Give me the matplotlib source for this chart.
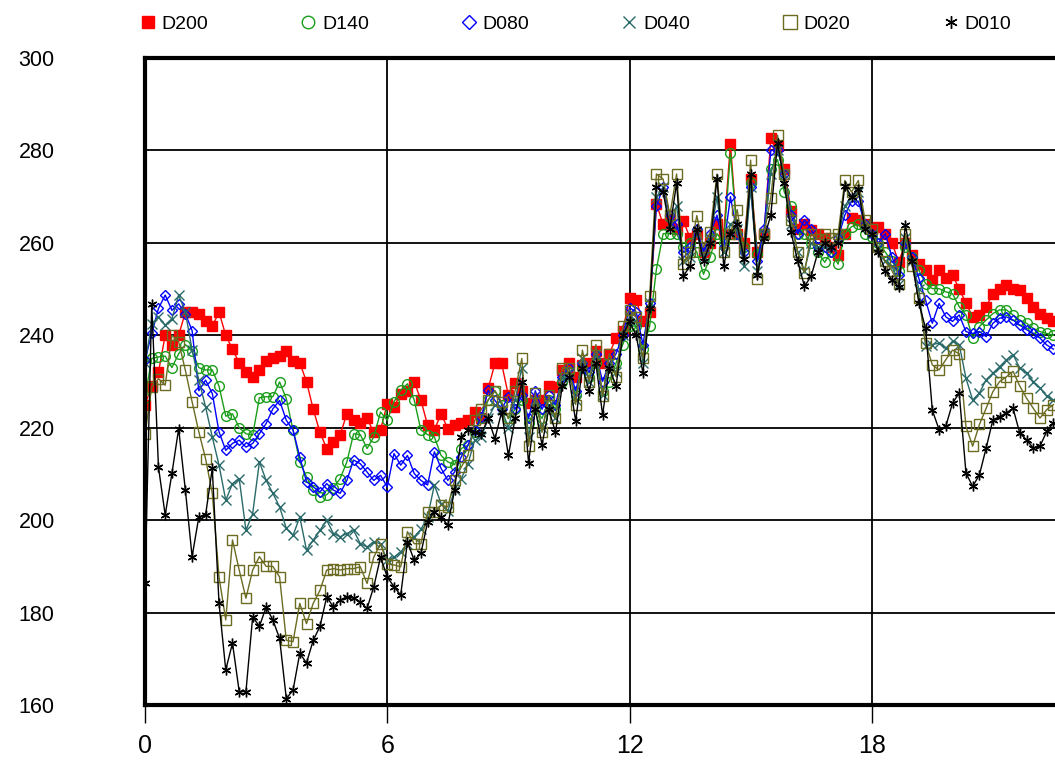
import numpy as np
import matplotlib
matplotlib.use("Agg")
import matplotlib.pyplot as plt
from matplotlib.lines import Line2D
from matplotlib import font_manager

# pick a narrow sans if we have one
names = {f.name for f in font_manager.fontManager.ttflist}
fam = "Liberation Sans Narrow" if "Liberation Sans Narrow" in names else "Liberation Sans"
plt.rcParams["font.family"] = [fam, "DejaVu Sans"]

# readings every 10 minutes (t = i/6 h)
d200 = [225, 229, 232, 240, 238, 240, 245, 245, 244.5, 243, 242, 245, 240, 237, 234, 232, 231, 232.5, 234.5, 235,
        235.5, 236.5, 234.5, 234, 230, 224, 219, 215.5,
        217, 218.5, 223, 221.6, 221, 222, 219, 219.5, 225.2, 224.5, 227.4, 228, 230, 226, 220.5, 219.5, 223, 219.8,
        220.5, 221, 221.6, 223.4, 222, 228.5, 233.9, 233.9,
        227, 229.6, 228, 225.3, 226, 226, 229, 228.9, 232.5, 233.9, 231, 233.6, 234, 236.5, 234, 236, 239.4, 241, 248, 247.6,
        243, 245, 268.4, 264, 265.1, 263, 264.8, 261, 262, 258, 260, 264, 262, 281.4, 262, 260, 273.9, 258, 262, 282.7,
        281, 276, 267, 263, 264, 262.8, 262, 261, 259, 257.3, 262, 265.4, 265, 264, 263, 263.5, 262, 260, 255.9, 259.9,
        257.3, 255.5, 254.1, 252, 254.1, 252.3, 253, 250.1, 246.9, 244, 244.4, 246.2, 249, 250.1, 250.9, 250.1, 249.8, 248,
        246.2, 244.7, 243.7, 243]
d140 = [226.5, 235, 235.3, 235.5, 233, 236, 238, 236.5, 233, 232.5, 232.5, 229, 222.5, 223, 220, 218.7, 218.4, 226.5,
        226.7, 226.7, 229.9, 226.3, 219.5, 212.6, 209.4, 206.5, 205,
        205.5, 207, 209, 212.6, 218.7, 218.5, 215.5, 218, 223.4, 221.6, 225.6, 228.1, 229.5, 226, 219.5, 218.5, 218, 214,
        212.6, 212, 215.5, 216.2, 219, 222, 226, 228, 225,
        222, 224, 226, 221, 224, 222, 226, 224, 230, 232, 227, 233, 231, 234, 228, 230, 234, 238, 242, 242,
        237, 242, 254.3, 262, 262, 262, 259, 260, 258, 253.2, 257, 262, 260, 279.4, 262, 259, 273, 257.6, 262, 276,
        278, 271, 268, 262, 262, 260, 258, 255.8, 258, 255.4, 262, 263.5, 264, 262, 261.3, 260, 258, 256, 254, 259,
        257, 254.1, 251.2, 250.1, 250.1, 249.4, 249, 246.2, 244.4, 239.4, 241.9, 243.3, 244.7, 245.5, 245.5, 244.4, 243.3,
        242.6, 241.5, 240.8, 240.4, 240]
d080 = [234.6, 240.4, 245.8, 248.7, 245.4, 246.8, 244.7, 241, 228, 230.3, 227.4, 219.1, 215.1, 216.6, 217.3, 215.8,
        216.6, 218.7, 220.9, 224.1, 225.9, 221.6, 219.5, 213.7, 208.3, 207.2, 206.1,
        207.9, 206.5, 205.8, 208.6, 213, 212.2, 210.4, 208.6, 209.7, 207.2, 214.4, 211.9, 214, 210.1, 208.6, 207.6, 214.8,
        211.2, 208.6, 210.4, 213.7, 216.2, 219.5, 222.3, 228.1, 225.9, 224.1,
        226.7, 224, 227, 222, 228, 224, 227, 225, 231, 233, 228, 234, 232, 236, 230, 234, 236, 240, 246, 245,
        238, 247, 268, 272, 266, 264, 258, 259, 263, 258, 262, 266, 259, 270, 262, 258, 272, 256, 263, 280,
        280, 275, 266, 262, 265, 263, 259, 259, 258, 261, 266, 269, 269, 264, 262, 260, 262, 257, 253, 260,
        257, 252.3, 247.6, 242.6, 246.9, 244, 243, 244.4, 240.8, 240.4, 240.8, 239.7, 242.6, 243.7, 244, 243.3, 242.2,
        241.2, 240.4, 239.4, 237.9, 237]
d040 = [233.9, 242.5, 244, 242.2, 243.6, 248.7, 245, 236.8, 230.3, 224.5, 218, 211.9, 204.3, 207.9, 209, 197.8, 201.4,
        212.6, 208.6, 205.8, 202.9, 198.2, 196.7, 200.7, 193.5, 195.7, 197.8,
        200, 197.1, 196.4, 197.1, 197.8, 194.9, 194.2, 195.3, 194.9, 191.3, 192, 193.1, 194.9, 196.4, 198, 200.7, 207.6,
        203.6, 202, 206.5, 209, 212.2, 217.3, 218, 222, 225, 224,
        220, 226, 233, 218, 226, 220, 225, 222, 231, 232, 226, 235, 230, 236, 227, 234, 232, 240, 244, 243,
        234, 247, 270, 272, 264, 268, 256, 257, 262, 257, 261, 270, 258, 264, 263, 255, 272, 254, 262, 275,
        280, 275, 264, 258, 254, 260, 259, 259, 259, 261, 268, 270, 271, 264, 262, 259, 256, 255, 251, 261,
        256, 250, 237.6, 238, 238.3, 237.2, 238.7, 238, 230.7, 226, 227.5, 230.4, 231.8, 233.2, 234.7, 235.8, 232.9,
        231.8, 230, 228.6, 226.8, 226]
d020 = [218.7, 228.8, 230.6, 229.2, 240, 238.6, 232.4, 225.6, 219.1, 213.3, 205.8, 187.7, 178.4, 195.7, 189.2, 183.1,
        189.2, 192.1, 190, 190, 187.7, 174, 173.7, 182, 177.6, 182, 184.8,
        189.2, 189.5, 189.2, 189.5, 189.5, 189.9, 186.3, 192, 194.9, 190.6, 190.3, 189.9, 197.5, 194.9, 194.9, 201.8,
        201.8, 203.2, 202.9, 208.6, 211.5, 214, 221.6, 224, 226, 228, 225.6,
        222, 228, 235, 216, 227.5, 219, 227, 222, 233, 233, 225, 236.8, 230, 238, 226.8, 236, 231, 242, 245.5, 244,
        235, 248.5, 274.9, 273.8, 266, 274.9, 255.4, 258, 265.9, 259, 262.4, 274.9, 258, 262, 267.2, 258, 277.9, 252.1,
        262, 269.8,
        283.3, 275, 264.9, 258, 253.5, 262, 260.8, 262, 261, 262, 273.5, 271, 273.5, 264.9, 263, 259, 256, 254, 251, 262,
        255, 248, 238.3, 233.6, 232.5, 234.7, 236.8, 236, 220.3, 216, 220.7, 224.2, 227.8, 230, 231, 232.2, 229, 226.4,
        224.2, 222.1, 223.9, 225]
d010 = [186.3, 246.8, 211.5, 201.1, 210.1, 219.8, 206.5, 192.1, 200.7, 201.1, 211.2, 182, 167.6, 173.4, 162.9, 162.9,
        179.1, 177, 181.2, 178.4, 174.4, 161.4, 163.2, 171.2, 169.1, 174, 177, 183.4,
        181.2, 182.7, 183.4, 183.1, 182.3, 180.9, 185.6, 192, 187.7, 185.6, 183.8, 195.3, 191.3, 192.8, 199.6, 201.8,
        200.7, 198.9, 206.5, 218, 219.5, 219, 218.7, 222, 217.6, 223.4,
        214, 222, 230, 212.4, 224, 216.3, 224, 219, 229, 231, 221.4, 233, 228, 234, 222.8, 233, 229, 240, 243, 240,
        231.8, 246, 272, 271, 263, 273, 252.8, 255, 263, 256, 260, 273.9, 255, 262, 264, 256.5, 275, 253, 261, 266,
        281.6, 273, 262.3, 256, 250.6, 252.8, 258, 260, 259, 260, 272.4, 270, 271.7, 263, 262, 258, 254, 252, 250.5, 263.8,
        256, 247, 241.5, 223.8, 219.6, 220.3, 225.3, 227.5, 210.2, 207.3, 209.8, 215.6, 221.7, 222.4, 223.2, 224.2, 218.8,
        217.4, 215.6, 216, 219.2, 221]

labels = ["D200", "D140", "D080", "D040", "D020", "D010"]
series = [d200, d140, d080, d040, d020, d010]
colors = ["#ff0000", "#1a9e1a", "#0000ff", "#2a6a6a", "#6b6b22", "#000000"]
markers = ["s", "o", "D", "x", "s", (6, 2, 0)]
msizes = [7, 7, 5.5, 7, 7.5, 7]
filled = [True, False, False, True, False, True]
xticks = [0, 6, 12, 18]

fig = plt.figure(figsize=(10.55, 7.6), dpi=100)
# axes run on to 24 h, past the right edge of the picture
ax = fig.add_axes([145 / 1055, 1 - 705 / 760, (1114 - 145) / 1055, (705 - 58) / 760])

handles = []
for vals, lab, c, m, ms, f in zip(series, labels, colors, markers, msizes, filled):
    t = np.arange(len(vals)) / 6.0
    mfc = c if f else "none"
    ax.plot(t, vals, color=c, lw=1.0, marker=m, ms=ms, mfc=mfc, mec=c, mew=1.0)
    handles.append(Line2D([], [], linestyle="none", marker=m, ms=ms + 2, mfc=mfc, mec=c, mew=1.0))

ax.set_xlim(0, 24)
ax.set_ylim(160, 300)
ax.set_xticks(xticks)
ax.set_yticks(range(160, 301, 20))
ax.set_axisbelow(True)
ax.grid(True, color="black", lw=1.3)
for s in ax.spines.values():
    s.set_linewidth(3)
ax.tick_params(axis="x", direction="out", length=13, width=1, pad=8, labelsize=18)
ax.tick_params(axis="y", length=0, pad=65, labelsize=15.5)

fig.legend(handles, labels, loc="center left", bbox_to_anchor=(140 / 1055, 1 - 24 / 760), ncol=6,
           frameon=False, fontsize=14, handlelength=0.8, handletextpad=0.3, columnspacing=4.75,
           borderaxespad=0, borderpad=0)

fig.savefig("out.png", dpi=100)
